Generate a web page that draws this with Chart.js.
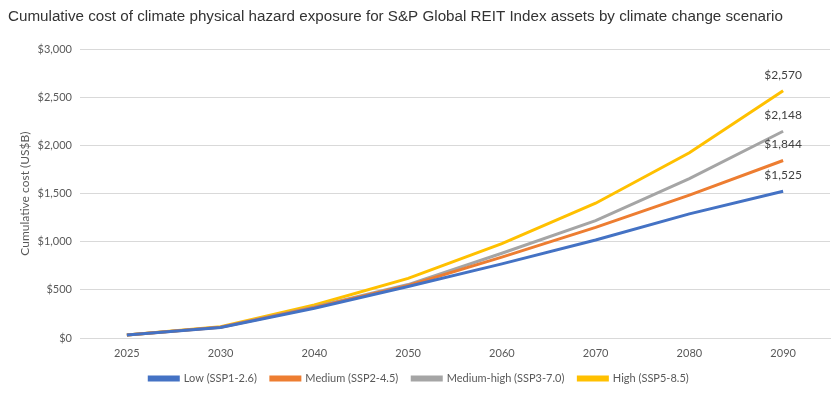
<!DOCTYPE html>
<html>
<head>
<meta charset="utf-8">
<script src="https://cdn.jsdelivr.net/npm/chart.js@4"></script>
<style>
  html, body { margin: 0; padding: 0; background: #fff; }
  #wrap { width: 837px; height: 397px; }
</style>
</head>
<body>
<div id="wrap"><canvas id="chart" width="837" height="397"></canvas></div>
<script>
const years = ['2025', '2030', '2040', '2050', '2060', '2070', '2080', '2090'];
const low = [30, 110, 310, 535, 770, 1018, 1290, 1525];
const medium = [30, 112, 318, 545, 840, 1150, 1485, 1844];
const mediumHigh = [30, 113, 322, 555, 880, 1220, 1655, 2148];
const high = [32, 118, 343, 620, 980, 1400, 1925, 2570];
const yTicks = [0, 500, 1000, 1500, 2000, 2500, 3000];

const labelFont = { family: 'Lato, "Open Sans", sans-serif', size: 11 };

function fmt(v) {
  return '$' + v.toLocaleString('en-US');
}

function series(label, data, color) {
  return {
    label, data,
    borderColor: color,
    backgroundColor: color,
    borderWidth: 3,
    pointRadius: 0,
    tension: 0,
    fill: false
  };
}

// value labels above the last point of each line
const endLabels = {
  id: 'endLabels',
  afterDatasetsDraw(chart) {
    const ctx = chart.ctx;
    ctx.save();
    ctx.font = '12px Lato, "Open Sans", sans-serif';
    ctx.fillStyle = '#404040';
    ctx.textAlign = 'center';
    ctx.textBaseline = 'middle';
    chart.data.datasets.forEach((ds, i) => {
      const meta = chart.getDatasetMeta(i);
      const last = meta.data[meta.data.length - 1];
      ctx.fillText(fmt(ds.data[ds.data.length - 1]), last.x, last.y - 16);
    });
    ctx.restore();
  }
};

new Chart(document.getElementById('chart'), {
  type: 'line',
  data: {
    labels: years,
    datasets: [
      series('Low (SSP1-2.6)', low, '#4472C4'),
      series('Medium (SSP2-4.5)', medium, '#ED7D31'),
      series('Medium-high (SSP3-7.0)', mediumHigh, '#A5A5A5'),
      series('High (SSP5-8.5)', high, '#FFC000')
    ]
  },
  options: {
    responsive: false,
    animation: false,
    layout: { padding: { left: 8, right: 7, top: 4, bottom: 3 } },
    plugins: {
      title: {
        display: true,
        text: 'Cumulative cost of climate physical hazard exposure for S&P Global REIT Index assets by climate change scenario',
        align: 'start',
        color: '#333333',
        font: { family: '"Liberation Sans", Arial, sans-serif', size: 15.2, weight: 'normal' },
        padding: { top: 4, bottom: 23 }
      },
      legend: {
        position: 'bottom',
        labels: {
          color: '#595959',
          font: labelFont,
          boxWidth: 29,
          boxHeight: 3,
          padding: 14
        }
      },
      tooltip: { enabled: false }
    },
    scales: {
      x: {
        offset: true,
        grid: { display: false, drawTicks: false },
        border: { color: '#D9D9D9' },
        ticks: { color: '#595959', font: labelFont, padding: 9 },
        afterFit(axis) { axis.height = 21; }
      },
      y: {
        min: 0,
        max: 3000,
        afterBuildTicks(axis) {
          axis.ticks = yTicks.map(v => ({ value: v }));
        },
        afterFit(axis) { axis.width = 72; },
        grid: { color: '#D9D9D9', drawTicks: false },
        border: { display: false },
        ticks: {
          color: '#595959',
          font: labelFont,
          padding: 8,
          callback: v => fmt(v)
        },
        title: {
          display: true,
          text: 'Cumulative cost (US$B)',
          color: '#595959',
          font: { family: 'Lato, "Open Sans", sans-serif', size: 12 },
          padding: { top: 10, bottom: 4 }
        }
      }
    }
  },
  plugins: [endLabels]
});
</script>
</body>
</html>
